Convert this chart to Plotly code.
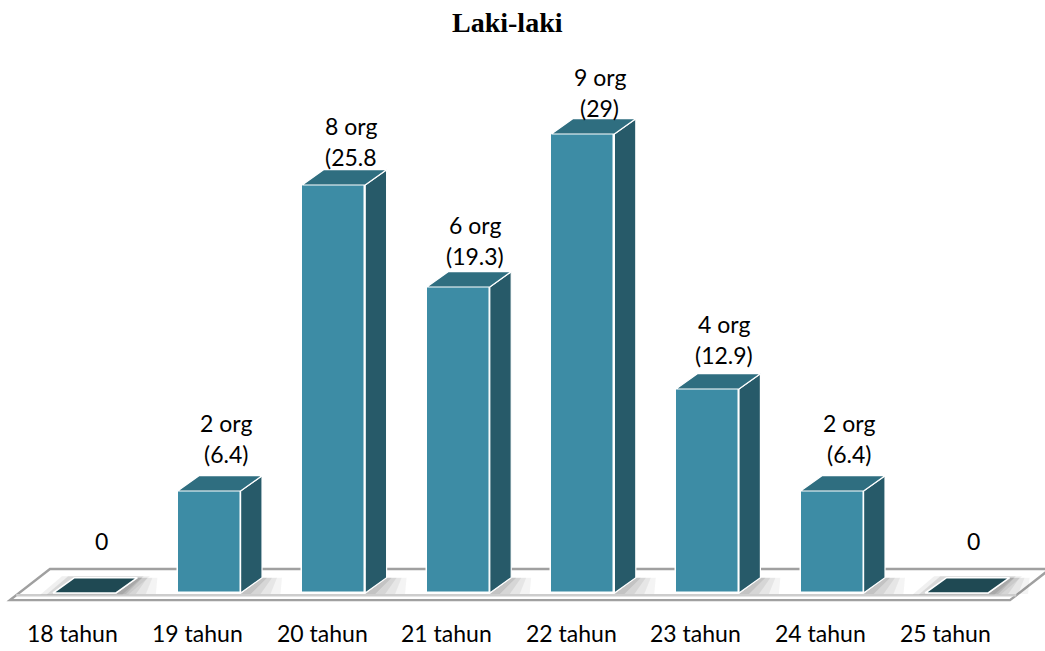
import plotly.graph_objects as go

# ---- data ----
categories = ["18 tahun", "19 tahun", "20 tahun", "21 tahun",
              "22 tahun", "23 tahun", "24 tahun", "25 tahun"]
counts = [0, 2, 8, 6, 9, 4, 2, 0]
percent_labels = ["", "(6.4)", "(25.8", "(19.3)", "(29)", "(12.9)", "(6.4)", ""]

# ---- styling / geometry (axis units) ----
FRONT = "#3d8ca5"
SIDE = "#275a69"
TOP = "#2f6e80"
FLAT = "#1f4953"
EDGE = "white"

half_w = 0.253        # half width of a column front face
dx, dy = 0.172, 0.30  # oblique depth offset of a column
x_range = [-0.678, 7.709]
y_range = [-1.137, 11.627]

xs = list(range(len(categories)))
fig = go.Figure()
shapes = []


def path_of(px, py):
    pts = " L ".join(f"{a},{b}" for a, b in zip(px, py))
    return f"M {pts} Z"


def poly(px, py, fill, line_color=EDGE, width=1.2):
    fig.add_trace(go.Scatter(
        x=px + [px[0]], y=py + [py[0]], mode="lines", fill="toself",
        fillcolor=fill, line=dict(color=line_color, width=width),
        hoverinfo="skip", showlegend=False))


# floor plate (drawn beneath all traces)
f_front, f_back = -0.14, 0.471
f_left, f_right, f_off = -0.598, 7.428, 0.321
sk_floor = f_off / (f_back - f_front)
shapes.append(dict(type="path", xref="x", yref="y", layer="below",
                   path=path_of([f_left, f_right, f_right + f_off, f_left + f_off],
                                [f_front, f_front, f_back, f_back]),
                   fillcolor="#ffffff", line=dict(color="#a0a0a0", width=2.4)))
# light inner rim along the front of the plate
rim = -0.045
shapes.append(dict(type="line", xref="x", yref="y", layer="below",
                   x0=f_left + (rim - f_front) * sk_floor, y0=rim,
                   x1=f_right + (rim - f_front) * sk_floor, y1=rim,
                   line=dict(color="#cdcdcd", width=2.5)))

# soft shadows cast to the right of each column on the floor
for x in xs:
    r = x + half_w
    for w, alpha in [(0.32, 0.06), (0.24, 0.07), (0.16, 0.09), (0.08, 0.12)]:
        y0, y1 = -0.02, dy
        shapes.append(dict(type="path", xref="x", yref="y", layer="below",
                           path=path_of([r, r + w, r + dx + w * 0.5, r + dx],
                                        [y0, y0, y1, y1]),
                           fillcolor=f"rgba(60,60,60,{alpha})",
                           line=dict(width=0)))
    if counts[x] == 0:
        l = x - half_w
        for g, alpha in [(0.10, 0.08), (0.05, 0.12)]:
            shapes.append(dict(type="path", xref="x", yref="y", layer="below",
                               path=path_of([l - g, r + g, r + dx + g, l + dx - g],
                                            [-0.03, -0.03, dy + 0.03, dy + 0.03]),
                               fillcolor=f"rgba(60,60,60,{alpha})",
                               line=dict(width=0)))

# column front faces
fig.add_trace(go.Bar(
    x=[x for x, c in zip(xs, counts) if c > 0],
    y=[c for c in counts if c > 0],
    width=2 * half_w, marker=dict(color=FRONT, line=dict(color=EDGE, width=1.5)),
    hoverinfo="skip", showlegend=False))

# column side and top faces
for x, c in zip(xs, counts):
    l, r = x - half_w, x + half_w
    if c > 0:
        poly([r, r + dx, r + dx, r], [0, dy, c + dy, c], SIDE)
        poly([l, r, r + dx, l + dx], [c, c, c + dy, c + dy], TOP)
    else:
        poly([l, r, r + dx, l + dx], [0, 0, dy, dy], FLAT, EDGE, 1.6)

annotations = []
label_font = dict(family="Lato, Calibri, sans-serif", size=23, color="black")

# value labels above each column
for x, c, p in zip(xs, counts, percent_labels):
    top = c + dy
    if c > 0:
        shift = 25 - 1.6 * c
        annotations.append(dict(x=x, y=top, xref="x", yref="y", text=p,
                                showarrow=False, xshift=17, yshift=shift,
                                yanchor="middle", font=label_font))
        annotations.append(dict(x=x, y=top, xref="x", yref="y",
                                text=f"{c} org", showarrow=False, xshift=17,
                                yshift=shift + 31, yanchor="middle",
                                font=label_font))
    else:
        annotations.append(dict(x=x, y=top, xref="x", yref="y", text="0",
                                showarrow=False, xshift=17, yshift=37,
                                yanchor="middle", font=label_font))

# category labels under the floor
for x, name in zip(xs, categories):
    annotations.append(dict(x=x, y=-0.784, xref="x", yref="y", text=name,
                            showarrow=False, xshift=-11.5, yanchor="middle",
                            font=label_font))

# title
annotations.append(dict(x=0.4856, y=1 - 22 / 651, xref="paper", yref="paper",
                        text="<b>Laki-laki</b>", showarrow=False,
                        yanchor="middle",
                        font=dict(family="Liberation Serif, Times New Roman, serif",
                                  size=28, color="black")))

fig.update_layout(
    width=1045, height=651,
    margin=dict(l=0, r=0, t=0, b=0),
    paper_bgcolor="white", plot_bgcolor="white",
    xaxis=dict(range=x_range, visible=False, fixedrange=True),
    yaxis=dict(range=y_range, visible=False, fixedrange=True),
    annotations=annotations,
    shapes=shapes,
    bargap=0,
)

fig.write_html("out.html")
